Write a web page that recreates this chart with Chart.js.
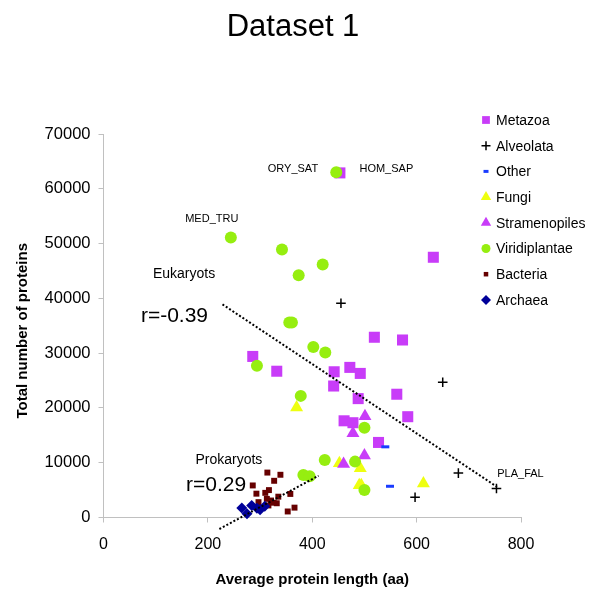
<!DOCTYPE html>
<html>
<head>
<meta charset="utf-8">
<script src="https://cdn.jsdelivr.net/npm/chart.js@4/dist/chart.umd.min.js"></script>
<style>html,body{margin:0;padding:0;background:#fff;}canvas{display:block;}</style>
</head>
<body>
<canvas id="c" width="600" height="616"></canvas>
<script>
const FONT = "'Liberation Sans', Arial, sans-serif";

// ---- data (x = average protein length, y = total number of proteins) ----
const metazoa = [[453,62900],[632,47500],[519,32900],[573,32400],[286,29400],[332,26700],[442,26600],[472,27400],[492,26300],[441,24000],[562,22500],[488,21700],[583,18400],[461,17650],[478,17300],[527,13700]];
const alveolata = [[455,39100],[650,24700],[680,8100],[597,3700],[753,5300]];
const other = [[540,12900],[549,5700]];
const fungi = [[370,20100],[452,9900],[492,9000],[490,5900],[494,5900],[613,6200]];
const stramenopiles = [[501,18500],[478,15400],[500,11300],[460,9750]];
const viridiplantae = [[446,63000],[244,51100],[342,48900],[420,46200],[374,44200],[356,35600],[361,35600],[402,31100],[425,30100],[294,27700],[378,22200],[500,16400],[424,10500],[482,10200],[383,7750],[395,7550],[500,5000]];
const bacteria = [[314,8200],[339,7800],[327,6700],[286,5850],[293,4350],[310,4500],[317,5000],[358,4300],[335,3800],[313,3400],[321,3100],[297,2800],[332,2600],[316,2200],[326,2700],[366,1800],[353,1100]];
const archaea = [[265,1750],[275,700],[284,2200],[294,1700],[300,1400],[309,2050]];

const eukTrend = [[228,38900],[754,5600]];
const proTrend = [[222,-2100],[412,7620]];

const seriesNames = ['Metazoa','Alveolata','Other','Fungi','Stramenopiles','Viridiplantae','Bacteria','Archaea'];
const xTicks = [0,200,400,600,800];
const yTicks = [0,10000,20000,30000,40000,50000,60000,70000];

// text annotations placed at data coordinates
const labelTexts = ['ORY_SAT','HOM_SAP','MED_TRU','PLA_FAL','Eukaryots','r=-0.39','Prokaryots','r=0.29'];
const labelX = [363,542,207.5,799,154.4,136,240.3,215.7];
const labelY = [63530,63530,54420,7930,44390,36790,10480,5920];
const labelSize = [11,11,11,11,14,21,14,21];

const PURPLE = '#C83CF8', GREEN = '#96EE10', YELLOW = '#EEFF10';
const styles = [
  {pointStyle:'rect', radius:7.8, bg:PURPLE, bc:PURPLE, bw:0, lr:5.5},
  {pointStyle:'cross', radius:4.8, bg:'#000', bc:'#000', bw:1.5, lr:4.5},
  {pointStyle:'line', radius:4, bg:'#1a3cff', bc:'#1a3cff', bw:3, lr:2.5},
  {pointStyle:'triangle', radius:7.5, bg:YELLOW, bc:YELLOW, bw:0, lr:6},
  {pointStyle:'triangle', radius:7.5, bg:PURPLE, bc:PURPLE, bw:0, lr:6},
  {pointStyle:'circle', radius:6, bg:GREEN, bc:GREEN, bw:0, lr:4.5},
  {pointStyle:'rect', radius:4.2, bg:'#660000', bc:'#660000', bw:0, lr:3.2},
  {pointStyle:'rectRot', radius:5.5, bg:'#000099', bc:'#000099', bw:0, lr:5},
];
const allData = [metazoa, alveolata, other, fungi, stramenopiles, viridiplantae, bacteria, archaea];
const toXY = arr => arr.map(p => ({x:p[0], y:p[1]}));

const datasets = allData.map((d,i) => ({
  type:'scatter',
  label: seriesNames[i],
  data: toXY(d),
  pointStyle: styles[i].pointStyle,
  pointRadius: styles[i].radius,
  backgroundColor: styles[i].bg,
  borderColor: styles[i].bc,
  pointBorderWidth: styles[i].bw,
  borderWidth: styles[i].bw,
  order: 20 - i,
  clip: false
}));
[eukTrend, proTrend].forEach((t,k) => datasets.push({
  type:'line',
  label: k===0 ? 'Eukaryots trend' : 'Prokaryots trend',
  data: toXY(t),
  borderColor:'#000',
  borderWidth:2,
  borderDash:[2,2],
  pointRadius:0,
  fill:false,
  order: k,
  clip:false
}));

const overlay = {
  id:'overlay',
  afterDraw(chart){
    const ctx = chart.ctx, xs = chart.scales.x, ys = chart.scales.y;
    ctx.save();
    ctx.fillStyle = '#000';
    ctx.textAlign = 'center'; ctx.textBaseline = 'middle';
    // title
    ctx.font = '31px ' + FONT;
    ctx.fillText('Dataset 1', 293, 27);
    // axis titles
    ctx.font = 'bold 15px ' + FONT;
    ctx.fillText('Average protein length (aa)', (xs.left + xs.right)/2, 580);
    ctx.save();
    ctx.translate(23, (ys.top + ys.bottom)/2 + 5);
    ctx.rotate(-Math.PI/2);
    ctx.fillText('Total number of proteins', 0, 0);
    ctx.restore();
    // annotations
    labelTexts.forEach((t,i) => {
      ctx.font = labelSize[i] + 'px ' + FONT;
      ctx.fillText(t, xs.getPixelForValue(labelX[i]), ys.getPixelForValue(labelY[i]));
    });
    // legend
    const lx = 486, ly0 = 120, step = 25.7;
    seriesNames.forEach((n,i) => {
      const y = ly0 + i*step, s = styles[i];
      ctx.fillStyle = s.bg; ctx.strokeStyle = s.bc; ctx.lineWidth = s.bw;
      Chart.helpers.drawPoint(ctx, {pointStyle:s.pointStyle, radius:s.lr, rotation:0, borderWidth:s.bw}, lx, y);
      ctx.fillStyle = '#000';
      ctx.font = '14px ' + FONT;
      ctx.textAlign = 'left';
      ctx.fillText(n, 496, y + 1);
    });
    ctx.restore();
  }
};

new Chart(document.getElementById('c'), {
  type:'scatter',
  data:{ datasets },
  options:{
    responsive:false,
    animation:false,
    layout:{ padding:{ top:134, right:79, bottom:0, left:0 } },
    plugins:{ legend:{display:false}, tooltip:{enabled:false}, title:{display:false} },
    scales:{
      x:{
        type:'linear', min:0, max:800,
        afterBuildTicks(s){ s.ticks = xTicks.map(v => ({value:v})); },
        ticks:{ font:{family:FONT, size:16}, color:'#000', padding:12, maxRotation:0 },
        grid:{ drawOnChartArea:false, drawTicks:true, tickLength:5, color:'#c0c0c0' },
        border:{ color:'#c0c0c0' },
        afterFit(s){ s.height = 98.5; }
      },
      y:{
        type:'linear', min:0, max:70000,
        afterBuildTicks(s){ s.ticks = yTicks.map(v => ({value:v})); },
        ticks:{ font:{family:FONT, size:16.5}, color:'#000', padding:8, callback:v => String(v) },
        grid:{ drawOnChartArea:false, drawTicks:true, tickLength:5, color:'#c0c0c0' },
        border:{ color:'#c0c0c0' },
        afterFit(s){ s.width = 103.5; }
      }
    }
  },
  plugins:[overlay]
});
</script>
</body>
</html>
